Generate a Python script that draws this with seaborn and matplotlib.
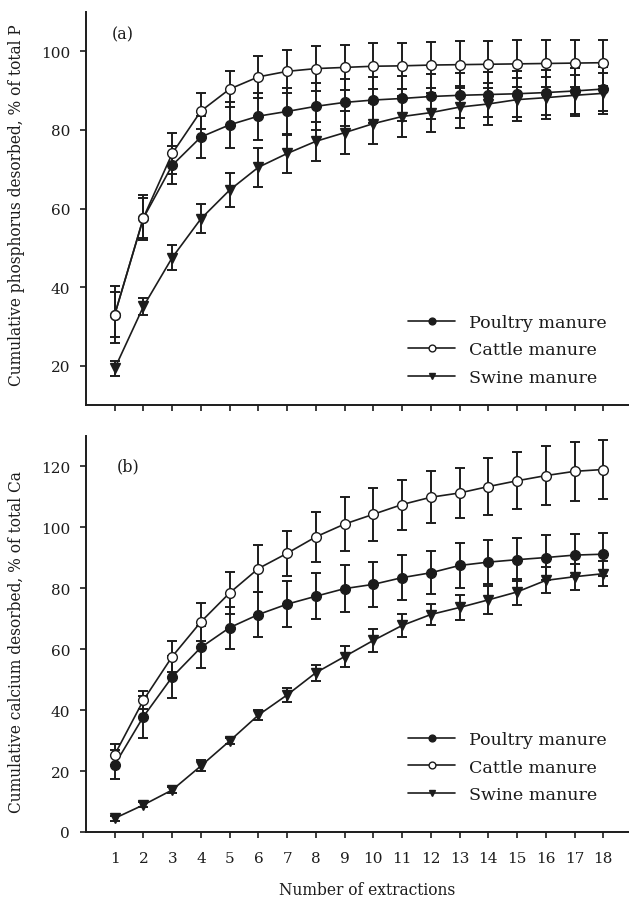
import numpy as np
import matplotlib
matplotlib.use('Agg')
import matplotlib.pyplot as plt
import seaborn as sns

# ── Datos ─────────────────────────────────────────────────────────
extracciones = list(range(1, 19))

p_poultry    = [33.0, 57.6, 71.0, 78.2, 81.3, 83.5, 84.7, 86.0, 87.0,
                87.6, 88.0, 88.5, 88.8, 89.0, 89.2, 89.5, 89.9, 90.4]
p_poultry_sd = [5.7, 5.0, 4.8, 5.3, 5.9, 6.0, 6.0, 6.0, 6.0,
                5.9, 5.7, 5.8, 5.8, 5.8, 5.8, 5.8, 5.8, 5.6]
p_cattle     = [33.0, 57.7, 74.0, 84.8, 90.4, 93.5, 94.9, 95.6, 95.9,
                96.2, 96.3, 96.5, 96.6, 96.7, 96.8, 96.9, 97.0, 97.1]
p_cattle_sd  = [7.3, 5.7, 5.3, 4.6, 4.7, 5.4, 5.5, 5.7, 5.8,
                5.8, 5.9, 5.9, 5.9, 6.0, 6.0, 6.0, 6.0, 5.9]
p_swine      = [19.3, 35.1, 47.5, 57.4, 64.7, 70.5, 74.0, 77.1, 79.3,
                81.6, 83.4, 84.4, 85.8, 86.6, 87.7, 88.2, 88.8, 89.3]
p_swine_sd   = [1.9, 2.2, 3.2, 3.7, 4.4, 5.0, 5.0, 5.0, 5.4,
                5.3, 5.2, 4.9, 5.4, 5.4, 5.5, 5.3, 5.2, 5.2]

ca_poultry    = [22.1, 37.9, 50.9, 60.6, 67.1, 71.4, 74.8, 77.4, 79.9,
                 81.3, 83.5, 85.1, 87.5, 88.6, 89.4, 90.1, 90.9, 91.2]
ca_poultry_sd = [4.7, 6.9, 7.0, 6.9, 6.9, 7.5, 7.6, 7.6, 7.6,
                 7.4, 7.4, 7.0, 7.4, 7.2, 7.0, 7.3, 7.0, 7.1]
ca_cattle     = [25.4, 43.3, 57.6, 69.0, 78.5, 86.5, 91.5, 96.9, 101.1,
                 104.3, 107.5, 109.9, 111.3, 113.4, 115.3, 117.0, 118.4, 119.0]
ca_cattle_sd  = [3.5, 3.0, 5.1, 6.2, 7.0, 7.6, 7.3, 8.3, 8.8,
                 8.7, 8.2, 8.6, 8.3, 9.4, 9.4, 9.7, 9.6, 9.8]
ca_swine      = [4.5, 8.9, 13.8, 21.7, 29.9, 38.4, 45.0, 52.3, 57.6,
                 62.9, 67.8, 71.4, 73.7, 76.2, 78.8, 82.6, 83.8, 84.8]
ca_swine_sd   = [0.8, 0.8, 1.0, 1.8, 1.0, 1.7, 2.3, 2.6, 3.4,
                 3.7, 3.8, 3.6, 4.1, 4.5, 4.2, 4.3, 4.3, 4.1]

etiquetas = ['Poultry manure', 'Cattle manure', 'Swine manure']

# ── Estilo ────────────────────────────────────────────────────────
sns.set_style('ticks')
plt.rcParams['font.family'] = ['DejaVu Serif']
NEGRO = '#1c1c1c'

fig = plt.figure(figsize=(6.29, 9.04), dpi=100)
ax_p  = fig.add_axes([86 / 629, 1 - 406 / 904, 546 / 629, 393 / 904])
ax_ca = fig.add_axes([86 / 629, 1 - 833 / 904, 546 / 629, 396 / 904])


def dibujar(ax, series):
    estilos = [('o', NEGRO), ('o', 'white'), ('v', NEGRO)]
    for (y, sd), lab, (mk, fc) in zip(series, etiquetas, estilos):
        ax.errorbar(extracciones, y, yerr=sd, fmt='none', ecolor=NEGRO,
                    elinewidth=1.4, capsize=3.6, capthick=1.4, zorder=2)
        sns.lineplot(x=extracciones, y=y, ax=ax, color=NEGRO, lw=1.2,
                     marker=mk, markersize=7, markerfacecolor=fc,
                     markeredgecolor=NEGRO, markeredgewidth=1.0,
                     label=lab, zorder=3)
    ax.set_xlim(0, 19)
    ax.set_xticks(extracciones)
    sns.despine(ax=ax)
    for s in ('left', 'bottom'):
        ax.spines[s].set_linewidth(1.4)
        ax.spines[s].set_color(NEGRO)
    ax.tick_params(direction='out', length=4.5, width=1.2, color=NEGRO,
                   labelsize=11, labelcolor=NEGRO)
    ax.tick_params(axis='y', pad=7)
    ax.tick_params(axis='x', pad=9)


dibujar(ax_p, [(p_poultry, p_poultry_sd), (p_cattle, p_cattle_sd),
               (p_swine, p_swine_sd)])
dibujar(ax_ca, [(ca_poultry, ca_poultry_sd), (ca_cattle, ca_cattle_sd),
                (ca_swine, ca_swine_sd)])

ax_p.set_ylim(10, 110)
ax_p.set_yticks([20, 40, 60, 80, 100])
ax_p.tick_params(axis='x', labelbottom=False)
ax_ca.set_ylim(0, 130)
ax_ca.set_yticks([0, 20, 40, 60, 80, 100, 120])

ax_p.text(0.048, 0.944, '(a)', transform=ax_p.transAxes, fontsize=11.5,
          va='center', color=NEGRO)
ax_ca.text(0.057, 0.924, '(b)', transform=ax_ca.transAxes, fontsize=11.5,
           va='center', color=NEGRO)

ylab_kw = dict(fontsize=12.3, fontstretch='condensed', color=NEGRO)
ax_p.set_ylabel('Cumulative phosphorus desorbed, % of total P', **ylab_kw)
ax_ca.set_ylabel('Cumulative calcium desorbed, % of total Ca', **ylab_kw)
ax_p.yaxis.set_label_coords(-0.112, 0.511)
ax_ca.yaxis.set_label_coords(-0.112, 0.482)

ax_p.set_xlabel('')
ax_ca.set_xlabel('Number of extractions', fontsize=11.2, color=NEGRO)
ax_ca.xaxis.set_label_coords((367 - 86) / 546, -0.125)

for ax, y0 in ((ax_p, 0.232), (ax_ca, 0.255)):
    leg = ax.legend(loc='upper left', bbox_to_anchor=(0.59, y0),
                    frameon=False, fontsize=12.6, borderpad=0,
                    borderaxespad=0, handlelength=2.7, handletextpad=0.75,
                    labelspacing=0.6, markerscale=0.7)
    for t in leg.get_texts():
        t.set_color(NEGRO)

plt.savefig('out.png', dpi=100)
